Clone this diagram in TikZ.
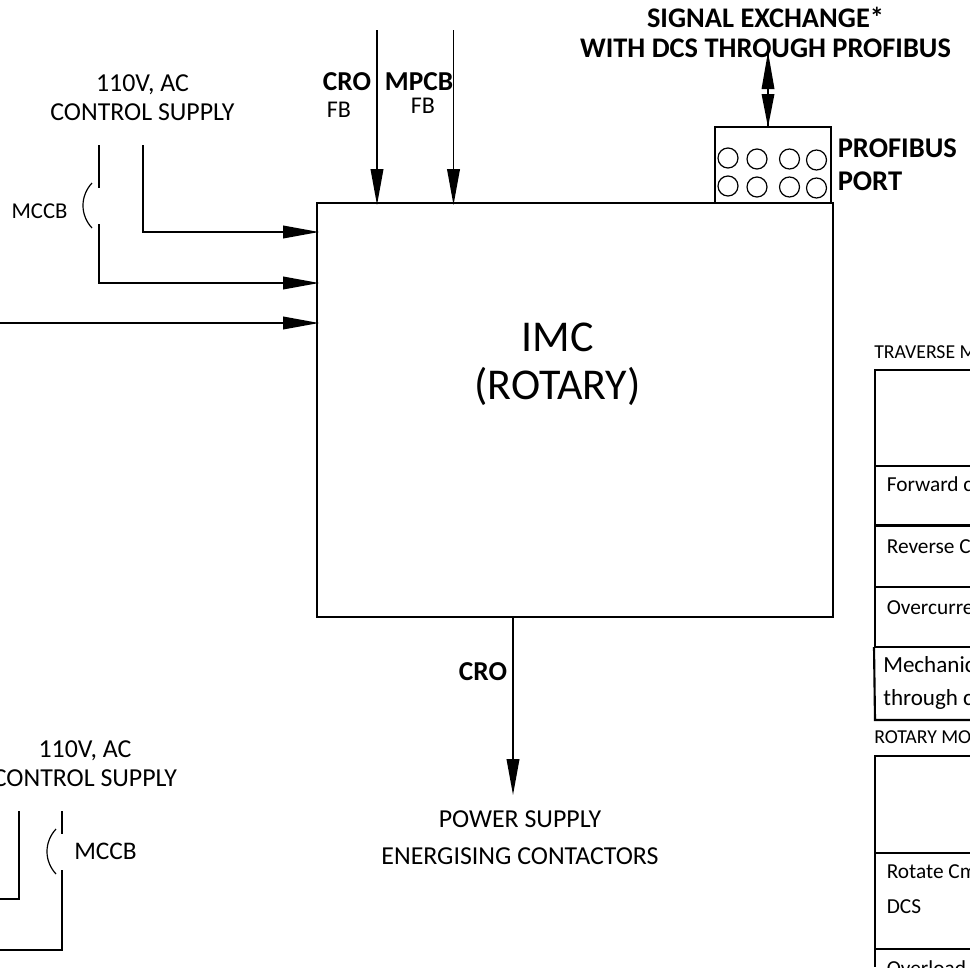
\documentclass[tikz,border=0pt]{standalone}
\usepackage{fontspec}
\setmainfont{Carlito}
\usetikzlibrary{arrows.meta,positioning}
\tikzset{
  wire/.style={draw=black,line width=1.2pt},
  arr/.style={wire,shorten >=-1.5pt,-{Triangle[length=27pt,width=9.5pt]}},
  lab/.style={inner sep=0pt,align=center,font=\fontsize{19.4}{22}\selectfont},
  boldlab/.style={inner sep=0pt,align=center,font=\fontsize{20.5}{22.5}\selectfont\bfseries},
  fblab/.style={inner sep=0pt,font=\fontsize{18}{20}\selectfont},
  small/.style={inner sep=0pt,anchor=base west,font=\fontsize{16}{19}\selectfont},
  caption/.style={inner sep=0pt,anchor=base west,font=\fontsize{14.8}{18}\selectfont},
  big/.style={inner sep=0pt,anchor=base west,font=\fontsize{17.3}{20}\selectfont},
  port/.style={circle,draw=black,line width=0.9pt,minimum size=15pt,inner sep=0pt,outer sep=0pt},
  mainbox/.style={draw=black,line width=1.3pt,inner sep=0pt,outer sep=0pt},
  cell/.style={draw=black,line width=1.6pt},
  tworule/.style={line width=0.9pt},
}
\begin{document}
\begin{tikzpicture}[x=0.75pt,y=-0.75pt]
\useasboundingbox (0,0) rectangle (970,967);
\clip (0,0) rectangle (970,967);
% main box
\node[mainbox,minimum width=387pt,minimum height=310.5pt,anchor=north west] (imc) at (317,203) {};
\node[inner sep=0pt,align=center,font=\fontsize{33}{36}\selectfont] (imctext) at (557.5,364) {IMC\\(ROTARY)};
% profibus
\node[mainbox,minimum width=87pt,minimum height=57pt,anchor=south west] (pb) at (715,203) {};
\foreach \n/\px/\py in {a/728/158,b/757/159,c/789.5/159,d/816.5/160,e/728/186,f/757/187,g/789.5/187,h/816.5/188}
  \node[port] (p\n) at (\px,\py) {};
\node[boldlab,align=left,anchor=west,font=\fontsize{21.4}{24.7}\selectfont\bfseries] (pbl) at (837.5,165) {PROFIBUS\\PORT};
\node[boldlab,font=\fontsize{21.3}{22.5}\selectfont\bfseries] (sig) at (765.5,32) {SIGNAL EXCHANGE*\\WITH DCS THROUGH PROFIBUS};
% signal arrow
\coordinate (sigtop) at (768,52);
\coordinate (sigbot) at (768,127);
\draw[wire] (sigtop) -- (sigbot);
\fill (sigtop) -- (774.5,89) -- (761.5,89) -- cycle;
\fill (sigbot) -- (774.5,94) -- (761.5,94) -- cycle;
% top labels and inputs
\coordinate (croT) at (377,30);
\coordinate (croB) at (377,203);
\coordinate (mpT) at (453.5,30);
\coordinate (mpB) at (453.5,203);
\draw[arr] (croT) -- (croB);
\draw[arr] (mpT) -- (mpB);
\node[boldlab] (crol) at (347,82) {CRO};
\node[boldlab] (mpl) at (419,82) {MPCB};
\node[fblab] (fb1) at (339,110) {FB};
\node[fblab] (fb2) at (423,106) {FB};
% upper supply
\node[lab] (sup1) at (142.5,97.5) {110V, AC\\CONTROL SUPPLY};
\node[lab,font=\fontsize{17}{20}\selectfont] (mccb1) at (39.5,211) {MCCB};
\coordinate (a1) at (99,145);
\coordinate (a2) at (99,188);
\coordinate (a3) at (99,224);
\coordinate (a4) at (317,283);
\coordinate (b1) at (143,145);
\coordinate (b2) at (317,232);
\coordinate (c1) at (0,323);
\coordinate (c2) at (317,323);
\draw[wire] (a1) -- (a2);
\draw[arr] (a3) |- (a4);
\draw[arr] (b1) |- (b2);
\draw[arr] (c1) -- (c2);
\draw[tworule] (92,183) .. controls (80,196) and (80,215) .. (92,228);
% output
\coordinate (o1) at (513,617);
\coordinate (o2) at (513,793);
\draw[arr] (o1) -- (o2);
\node[boldlab] (crob) at (483,672) {CRO};
\node[lab,font=\fontsize{19.4}{27.75}\selectfont] (psu) at (520,837.5) {POWER SUPPLY\\ENERGISING CONTACTORS};
% lower supply
\node[lab] (sup2) at (85,764) {110V, AC\\CONTROL SUPPLY};
\node[lab,font=\fontsize{19}{22}\selectfont] (mccb2) at (105.5,851) {MCCB};
\coordinate (d1) at (19,811);
\coordinate (d2) at (0,899);
\coordinate (e1) at (62,811);
\coordinate (e2) at (62,834);
\coordinate (e3) at (62,870);
\coordinate (e4) at (0,950);
\draw[wire] (d1) |- (d2);
\draw[wire] (e1) -- (e2);
\draw[wire] (e3) |- (e4);
\draw[tworule] (56,829) .. controls (44,842) and (44,861) .. (56,874);
% tables
\draw[cell] (970,370) -- (875,370) -- (875,647);
\draw[cell] (875,466) -- (970,466);
\draw[cell] (875,525.5) -- (970,525.5);
\draw[cell] (875,587) -- (970,587);
\draw[cell] (874,647) -- (970,647);
\draw[cell] (874,647) -- (875,720) -- (970,720);
\draw[cell] (970,756) -- (875,756) -- (875,967);
\draw[cell] (875,853) -- (970,853);
\draw[cell] (875,949) -- (970,949);
\node[caption] (t1) at (874,358) {TRAVERSE M};
\node[small] (r1) at (886.5,491) {Forward c};
\node[small] (r2) at (886.5,553) {Reverse C};
\node[small] (r3) at (886.5,614) {Overcurre};
\node[big] (r4) at (883,672) {Mechanic};
\node[big] (r5) at (883,705) {through c};
\node[caption] (r6) at (874,743) {ROTARY MO};
\node[small] (r7) at (886.5,878) {Rotate Cm};
\node[small] (r8) at (886.5,913) {DCS};
\node[small] (r9) at (886.5,975) {Overload};
\end{tikzpicture}
\end{document}
